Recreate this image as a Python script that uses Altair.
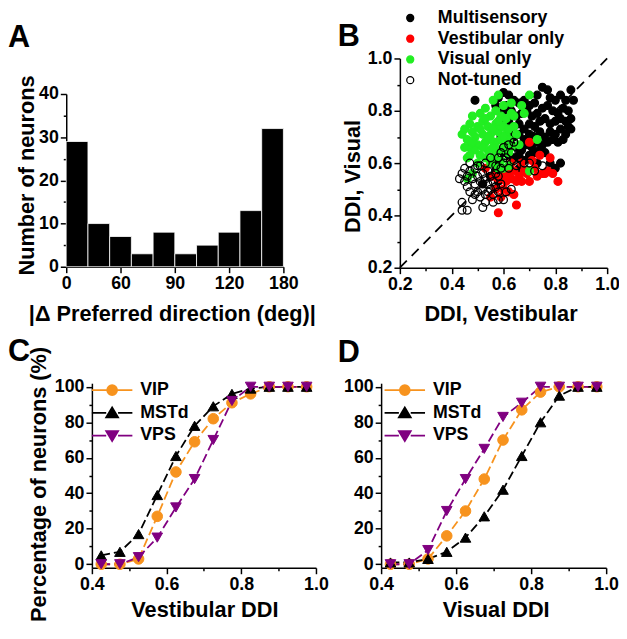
import altair as alt
import pandas as pd

FONT = "Liberation Sans"

# ---------------- Panel A : histogram ----------------
bin_start = [0, 18, 36, 54, 72, 90, 108, 126, 144, 162]
bin_end = [18, 36, 54, 72, 90, 108, 126, 144, 162, 180]
neuron_counts = [29, 10, 7, 3, 8, 3, 5, 8, 13, 32]
a_tick_values = [0, 45, 90, 135, 180]
a_tick_labels = ["0", "60", "90", "120", "180"]
a_y_ticks = [0, 5, 10, 15, 20, 25, 30, 35, 40]

# ---------------- Panel B : scatter ----------------
multi_x = [0.62, 0.64, 0.66, 0.68, 0.70, 0.72, 0.73, 0.75, 0.77, 0.78, 0.80, 0.82, 0.84, 0.86, 0.87,
           0.85, 0.83, 0.81, 0.79, 0.77, 0.75, 0.73, 0.71, 0.69, 0.67, 0.65, 0.63, 0.61, 0.62, 0.64,
           0.66, 0.68, 0.70, 0.72, 0.74, 0.76, 0.78, 0.80, 0.82, 0.84, 0.86, 0.86, 0.84, 0.82, 0.80,
           0.78, 0.76, 0.74, 0.72, 0.70, 0.68, 0.66, 0.64, 0.62, 0.63, 0.65, 0.67, 0.69, 0.71, 0.73,
           0.75, 0.77, 0.79, 0.81, 0.83, 0.85, 0.60, 0.62, 0.64, 0.66, 0.68, 0.70, 0.72, 0.74, 0.76,
           0.78, 0.80, 0.82, 0.73, 0.66, 0.58, 0.56, 0.57, 0.49, 0.58, 0.60, 0.60, 0.57, 0.59, 0.61,
           0.59, 0.55, 0.52, 0.58]
multi_y = [0.86, 0.84, 0.83, 0.84, 0.82, 0.83, 0.86, 0.89, 0.88, 0.85, 0.84, 0.86, 0.84, 0.88, 0.84,
           0.80, 0.81, 0.79, 0.80, 0.82, 0.81, 0.79, 0.78, 0.80, 0.79, 0.78, 0.80, 0.82, 0.76, 0.74,
           0.75, 0.73, 0.75, 0.74, 0.76, 0.77, 0.75, 0.76, 0.77, 0.76, 0.77, 0.73, 0.71, 0.73, 0.71,
           0.72, 0.70, 0.72, 0.70, 0.71, 0.69, 0.71, 0.70, 0.72, 0.67, 0.66, 0.65, 0.67, 0.66, 0.68,
           0.67, 0.68, 0.69, 0.68, 0.69, 0.74, 0.64, 0.63, 0.62, 0.63, 0.61, 0.63, 0.64, 0.65, 0.64,
           0.60, 0.58, 0.60, 0.60, 0.58, 0.61, 0.60, 0.57, 0.84, 0.85, 0.87, 0.80, 0.82, 0.77, 0.69,
           0.70, 0.55, 0.52, 0.53]
vest_x = [0.53, 0.55, 0.56, 0.57, 0.58, 0.59, 0.60, 0.60, 0.61, 0.62, 0.62, 0.63, 0.64, 0.64, 0.65,
          0.65, 0.66, 0.67, 0.68, 0.69, 0.70, 0.70, 0.71, 0.72, 0.73, 0.74, 0.75, 0.76, 0.77, 0.78,
          0.79, 0.81, 0.67, 0.63, 0.58]
vest_y = [0.58, 0.47, 0.55, 0.50, 0.41, 0.47, 0.50, 0.55, 0.53, 0.56, 0.49, 0.54, 0.48, 0.57, 0.44,
          0.53, 0.55, 0.53, 0.57, 0.56, 0.53, 0.68, 0.61, 0.58, 0.55, 0.63, 0.56, 0.56, 0.57, 0.62,
          0.56, 0.53, 0.60, 0.60, 0.54]
vis_x = [0.44, 0.45, 0.46, 0.47, 0.48, 0.47, 0.46, 0.48, 0.49, 0.50, 0.50, 0.51, 0.51, 0.52, 0.52,
         0.53, 0.53, 0.54, 0.54, 0.55, 0.55, 0.56, 0.56, 0.57, 0.57, 0.57, 0.58, 0.58, 0.58, 0.59,
         0.59, 0.59, 0.60, 0.60, 0.60, 0.61, 0.61, 0.62, 0.62, 0.63, 0.63, 0.64, 0.65, 0.66, 0.67,
         0.68, 0.70, 0.73, 0.70, 0.62, 0.60, 0.58, 0.55, 0.53, 0.50, 0.49, 0.45, 0.47, 0.48, 0.51,
         0.53, 0.55, 0.56, 0.57, 0.59, 0.61, 0.52, 0.54, 0.56, 0.58, 0.60, 0.62, 0.64, 0.63, 0.46,
         0.48]
vis_y = [0.71, 0.73, 0.69, 0.75, 0.72, 0.66, 0.62, 0.78, 0.70, 0.74, 0.67, 0.79, 0.63, 0.71, 0.76,
         0.68, 0.81, 0.74, 0.65, 0.78, 0.71, 0.62, 0.84, 0.68, 0.75, 0.80, 0.72, 0.65, 0.86, 0.78,
         0.69, 0.61, 0.74, 0.66, 0.82, 0.71, 0.77, 0.64, 0.69, 0.79, 0.83, 0.74, 0.71, 0.67, 0.82,
         0.79, 0.86, 0.69, 0.57, 0.59, 0.58, 0.58, 0.60, 0.62, 0.60, 0.65, 0.66, 0.63, 0.68, 0.73,
         0.77, 0.69, 0.73, 0.64, 0.74, 0.65, 0.66, 0.70, 0.66, 0.76, 0.70, 0.73, 0.78, 0.66, 0.54,
         0.56]
none_x = [0.43, 0.44, 0.44, 0.46, 0.44, 0.45, 0.45, 0.46, 0.46, 0.47, 0.47, 0.48, 0.48, 0.49, 0.49,
          0.50, 0.50, 0.50, 0.51, 0.51, 0.52, 0.52, 0.52, 0.53, 0.53, 0.53, 0.54, 0.54, 0.55, 0.55,
          0.55, 0.56, 0.56, 0.57, 0.57, 0.57, 0.58, 0.58, 0.58, 0.59, 0.59, 0.59, 0.60, 0.60, 0.60,
          0.61, 0.61, 0.62, 0.62, 0.63, 0.63, 0.64, 0.64, 0.65, 0.66, 0.68, 0.70, 0.72, 0.75, 0.47,
          0.49, 0.51, 0.53, 0.56, 0.54, 0.58]
none_y = [0.54, 0.45, 0.42, 0.42, 0.56, 0.53, 0.58, 0.55, 0.51, 0.57, 0.49, 0.54, 0.46, 0.58, 0.52,
          0.55, 0.49, 0.59, 0.53, 0.47, 0.56, 0.50, 0.43, 0.54, 0.48, 0.60, 0.52, 0.57, 0.50, 0.55,
          0.62, 0.53, 0.48, 0.56, 0.51, 0.59, 0.49, 0.62, 0.55, 0.52, 0.58, 0.64, 0.46, 0.60, 0.66,
          0.49, 0.62, 0.67, 0.58, 0.64, 0.50, 0.61, 0.68, 0.59, 0.62, 0.60, 0.60, 0.57, 0.59, 0.60,
          0.48, 0.59, 0.45, 0.45, 0.49, 0.46]
groups = ["Multisensory", "Vestibular only", "Visual only", "Not-tuned"]
group_fill = ["black", "#ff0000", "#22ee22", "transparent"]
group_stroke = ["black", "#ff0000", "#22ee22", "black"]
ddi_ticks = [0.2, 0.3, 0.4, 0.5, 0.6, 0.7, 0.8, 0.9, 1.0]
diag_vals = [0.2, 1.0]

# ---------------- Panels C and D : cumulative ----------------
ddi_centers = [0.425, 0.475, 0.525, 0.575, 0.625, 0.675, 0.725, 0.775, 0.825, 0.875, 0.925, 0.975]
series = ["VIP", "MSTd", "VPS"]
series_colors = ["#f7931e", "black", "#800080"]
series_shapes = ["circle", "triangle-up", "triangle-down"]
c_vip = [0, 0, 3, 27, 52, 69, 82, 91, 96, 100, 100, 100]
c_mstd = [5, 7, 17, 39, 61, 78, 89, 96, 99, 100, 100, 100]
c_vps = [0, 0, 4, 15, 32, 48, 70, 92, 100, 100, 100, 100]
d_vip = [0, 0, 3, 16, 30, 48, 70, 87, 97, 100, 100, 100]
d_mstd = [1, 1, 3, 7, 15, 27, 42, 61, 80, 95, 100, 100]
d_vps = [0, 0, 8, 30, 48, 65, 83, 91, 100, 100, 100, 100]
cd_x_ticks = [0.4, 0.5, 0.6, 0.7, 0.8, 0.9, 1.0]
cd_y_ticks = [0, 10, 20, 30, 40, 50, 60, 70, 80, 90, 100]

legend_paths = {
    "VIP": "M-2.05,0H-0.55M0.55,0H2.05M0.5,0A0.5,0.5,0,1,1,-0.5,0A0.5,0.5,0,1,1,0.5,0Z",
    "MSTd": "M-2.05,0H-0.6M0.6,0H2.05M0,-0.55L0.6,0.45L-0.6,0.45Z",
    "VPS": "M-2.05,0H-0.6M0.6,0H2.05M0,0.55L0.6,-0.45L-0.6,-0.45Z",
}


def pick_expr(mapping):
    items = list(mapping.items())
    expr = "'" + items[-1][1] + "'"
    for k, v in reversed(items[:-1]):
        expr = "datum.value === '" + k + "' ? '" + v + "' : " + expr
    return expr


def make_axis(orient, offset, values, title=None, title_x=None, title_y=None,
              label_expr=None, minor_test=None):
    args = dict(
        orient=orient, offset=offset, values=values, grid=False,
        domainColor="black", domainWidth=1.5, tickColor="black", tickWidth=1.5,
        labelFont=FONT, labelFontSize=18, labelFontWeight="bold", labelColor="black",
        labelPadding=2, labelFlush=False, labelOverlap=False,
    )
    if minor_test:
        args["tickSize"] = {"condition": {"test": minor_test, "value": 3}, "value": 6}
    else:
        args["tickSize"] = 6
    if label_expr:
        args["labelExpr"] = label_expr
    if title:
        args.update(title=title, titleFont=FONT, titleFontSize=22, titleFontWeight="bold",
                    titleColor="black", titleX=title_x, titleY=title_y,
                    titleAlign="center", titleBaseline="middle")
    else:
        args["title"] = None
    return alt.Axis(**args)


# ---- Panel A
df_a = pd.DataFrame({"start": bin_start, "end": bin_end, "count": neuron_counts,
                     "base": [0] * len(neuron_counts)})
a_label_expr = ("[" + ",".join("'" + s + "'" for s in a_tick_labels) + "][indexof(["
                + ",".join(str(v) for v in a_tick_values) + "], datum.value)]")
panel_a = alt.Chart(df_a).mark_rect(color="black", stroke="white", strokeWidth=0.8).encode(
    x=alt.X("start:Q", scale=alt.Scale(domain=[0, 180], range=[59, 279], nice=False, zero=False),
            axis=make_axis("bottom", -373, a_tick_values, "|\u0394 Preferred direction (deg)|",
                           166, 47, label_expr=a_label_expr)),
    x2="end:Q",
    y=alt.Y("count:Q", scale=alt.Scale(domain=[0, 40], range=[258, 83], nice=False),
            axis=make_axis("left", -59, a_y_ticks, "Number of neurons", -40, 165,
                           label_expr="datum.value % 10 == 0 ? datum.label : ''",
                           minor_test="datum.value % 10 != 0")),
    y2="base:Q",
)

# ---- Panel B
rows = []
for g, xs, ys in zip(groups, [multi_x, vest_x, vis_x, none_x], [multi_y, vest_y, vis_y, none_y]):
    for xv, yv in zip(xs, ys):
        rows.append({"x": xv, "y": yv, "group": g})
df_b = pd.DataFrame(rows)
df_diag = pd.DataFrame({"x": diag_vals, "y": diag_vals})

bx_scale = alt.Scale(domain=[0.2, 1.0], range=[397, 607], nice=False, zero=False)
by_scale = alt.Scale(domain=[0.2, 1.0], range=[259, 47], nice=False, zero=False)
b_minor = "round(datum.value * 10) % 2 == 1"
b_label = "round(datum.value * 10) % 2 == 1 ? '' : format(datum.value, '.1f')"

legend_b = alt.Legend(orient="none", legendX=398.5, legendY=-3, title=None, padding=0,
                      labelFont=FONT, labelFontSize=18, labelFontWeight="bold", labelColor="black",
                      labelOffset=19, rowPadding=3, symbolSize=50, symbolStrokeWidth=1.3,
                      symbolType="circle")

diag = alt.Chart(df_diag).mark_line(color="black", strokeWidth=1.8, strokeDash=[10, 7]).encode(
    x=alt.X("x:Q", scale=bx_scale,
            axis=make_axis("bottom", -372, ddi_ticks, "DDI, Vestibular", 499, 46,
                           label_expr=b_label, minor_test=b_minor)),
    y=alt.Y("y:Q", scale=by_scale,
            axis=make_axis("left", -397, ddi_ticks, "DDI, Visual", -48, 166,
                           label_expr=b_label, minor_test=b_minor)),
)
scatter = alt.Chart(df_b).mark_point(shape="circle", size=62, strokeWidth=1.3, opacity=1).encode(
    x=alt.X("x:Q", scale=bx_scale),
    y=alt.Y("y:Q", scale=by_scale),
    fill=alt.Fill("group:N", scale=alt.Scale(domain=groups, range=group_fill), legend=legend_b),
    stroke=alt.Stroke("group:N", scale=alt.Scale(domain=groups, range=group_stroke), legend=legend_b),
)
panel_b = alt.layer(diag, scatter)


# ---- Panels C and D
def cum_panel(vals, x_range, x_offset, y_offset, x_title, title_x, y_title, ytitle_x, leg_x):
    rows = []
    for s, arr in zip(series, vals):
        for xv, yv in zip(ddi_centers, arr):
            rows.append({"ddi": xv, "pct": yv, "series": s})
    df = pd.DataFrame(rows)
    xs = alt.Scale(domain=[0.4, 1.0], range=x_range, nice=False, zero=False)
    ys = alt.Scale(domain=[-2, 102], range=[563, 376], nice=False, zero=False)
    color_scale = alt.Scale(domain=series, range=series_colors)
    color_map = dict(zip(series, series_colors))
    leg = alt.Legend(orient="none", legendX=leg_x, legendY=372, title=None, padding=0,
                     labelFont=FONT, labelFontSize=18, labelFontWeight="bold", labelColor="black",
                     labelOffset=17.5, rowPadding=3, symbolSize=400, symbolStrokeWidth=1.8,
                     symbolOpacity=1,
                     symbolType={"expr": pick_expr(legend_paths)},
                     symbolFillColor={"expr": pick_expr(color_map)},
                     symbolStrokeColor={"expr": pick_expr(color_map)})
    x_minor = "round(datum.value * 10) % 2 == 1"
    x_label = "round(datum.value * 10) % 2 == 1 ? '' : format(datum.value, '.1f')"
    y_label = "datum.value % 20 == 0 ? datum.label : ''"
    y_minor = "datum.value % 20 != 0"
    lines = alt.Chart(df).mark_line(strokeWidth=1.8, strokeDash=[9, 4]).encode(
        x=alt.X("ddi:Q", scale=xs,
                axis=make_axis("bottom", y_offset, cd_x_ticks, x_title, title_x, 42,
                               label_expr=x_label, minor_test=x_minor)),
        y=alt.Y("pct:Q", scale=ys,
                axis=make_axis("left", x_offset, cd_y_ticks, y_title, ytitle_x, 478,
                               label_expr=y_label, minor_test=y_minor)),
        stroke=alt.Stroke("series:N", scale=color_scale, legend=leg),
    )
    layers = [lines]
    for s, shp in zip(series, series_shapes):
        layers.append(
            alt.Chart(df).transform_filter(alt.datum.series == s).mark_point(
                filled=True, size=115, opacity=1, strokeWidth=1, shape=shp).encode(
                x=alt.X("ddi:Q", scale=xs),
                y=alt.Y("pct:Q", scale=ys),
                fill=alt.Fill("series:N", scale=color_scale, legend=leg),
                stroke=alt.Stroke("series:N", scale=color_scale, legend=leg),
            )
        )
    return alt.layer(*layers)


panel_c = cum_panel([c_vip, c_mstd, c_vps], [85, 312], -85, -68, "Vestibular DDI", 199,
                    "Percentage of neurons (%)", -54, 94.5)
panel_d = cum_panel([d_vip, d_mstd, d_vps], [378, 606], -378, -68, "Visual DDI", 494,
                    None, None, 391)

# ---- Panel letters
panel_letters = ["A", "B", "C", "D"]
letter_marks = []
for letter, (lx, ly) in zip(panel_letters, [(0, 26), (334, 25), (0, 344), (334, 345)]):
    letter_marks.append(
        alt.Chart(pd.DataFrame({"t": [letter]})).mark_text(
            font=FONT, fontSize=31, fontWeight="bold", align="left", baseline="middle",
            color="black").encode(text="t:N", x=alt.value(lx), y=alt.value(ly))
    )

chart = alt.layer(panel_a, panel_b, panel_c, panel_d, *letter_marks).resolve_scale(
    x="independent", y="independent", fill="independent", stroke="independent",
    shape="independent"
).properties(
    width=619, height=631, autosize=alt.AutoSizeParams(type="none"), padding=0
).configure_view(stroke=None)

chart.save("out.html", embed_options={"renderer": "svg", "actions": False})
